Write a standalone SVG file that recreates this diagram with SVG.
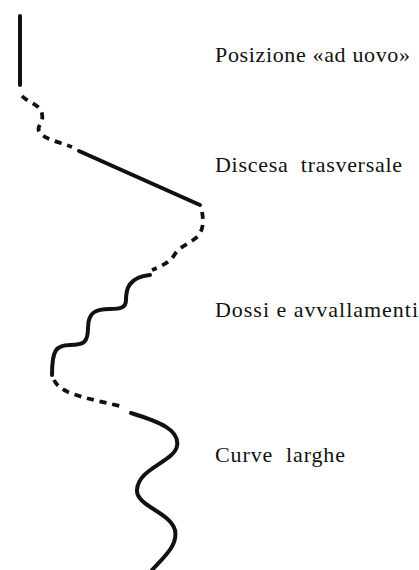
<svg xmlns="http://www.w3.org/2000/svg" width="419" height="570" viewBox="0 0 419 570">
<style>
.s{fill:none;stroke:#111;stroke-width:4;stroke-linecap:round;stroke-linejoin:round}
.d{fill:none;stroke:#111;stroke-width:3.8;stroke-dasharray:7 6;stroke-linecap:butt}
.t{font-family:"Liberation Serif","Times New Roman",serif;font-size:22px;fill:#111}
</style>
<rect width="419" height="570" fill="#fff"/>
<g id="connectors">
<path id="p1" class="s" d="M20,16 L20,85"/>
<path id="p2" class="d" d="M22,96 C30,104 40,104 42,114 C44,124 36,126 39,131 C43,139 56,141 72,147"/>
<path id="p3" class="s" d="M79,151 L200,205"/>
<path id="p4" class="d" d="M202,212 C204,222 203,230 198,236 C190,244 180,246 175,254 C170,262 162,266 152,270"/>
<path id="p5" class="s" d="M150,275 C128,277 126,290 126,300 C126,308 120,309 110,309 C96,309 88,312 88,328 C88,342 84,345 70,345 C56,345 52,350 52,375"/>
<path id="p6" class="d" d="M54,380 C60,392 75,396 120,406"/>
<path id="p7" class="s" d="M131,413 C160,422 180,430 177,446 C174,462 138,468 137,490 C136,506 170,512 175,530 C178,545 165,556 152,570"/>
</g>
<g id="label-posizione"><text class="t" x="215" y="62" textLength="195" lengthAdjust="spacing">Posizione «ad uovo»</text></g>
<g id="label-discesa"><text class="t" x="215" y="172" textLength="187" lengthAdjust="spacing" xml:space="preserve">Discesa  trasversale</text></g>
<g id="label-dossi"><text class="t" x="215" y="317" textLength="203" lengthAdjust="spacing">Dossi e avvallamenti</text></g>
<g id="label-curve"><text class="t" x="215" y="462" textLength="130" lengthAdjust="spacing" xml:space="preserve">Curve  larghe</text></g>
</svg>
